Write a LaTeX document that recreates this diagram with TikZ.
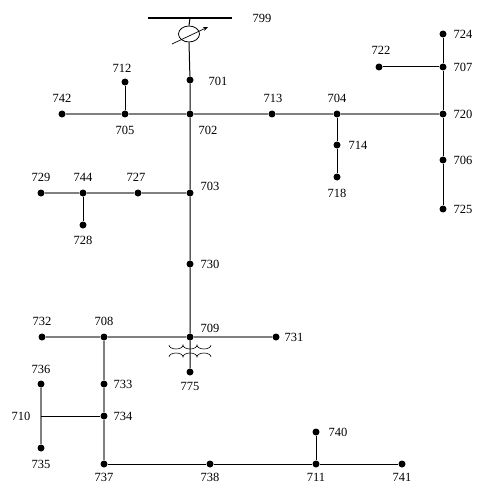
\documentclass[tikz,border=0pt]{standalone}
\usepackage{fontspec}
\setmainfont{Liberation Serif}
\usetikzlibrary{arrows.meta,shapes.geometric}
\begin{document}
\begin{tikzpicture}[x=1pt,y=-1pt,
  bus/.style={circle,fill=black,inner sep=0pt,minimum width=7pt,minimum height=6.5pt},
  lbl/.style={font=\fontsize{12.5}{13}\selectfont,inner sep=0pt},
  blk/.style={draw=black,line width=1pt},
  gry/.style={draw=black!50,line width=1.2pt}]
\useasboundingbox (0,0) rectangle (476,484);
% buses
\node[bus] (701) at (190,80) {};
\node[bus] (702) at (190,114) {};
\node[bus] (705) at (125,114) {};
\node[bus] (712) at (125,82) {};
\node[bus] (742) at (62,114) {};
\node[bus] (713) at (272,114) {};
\node[bus] (704) at (337,114) {};
\node[bus] (714) at (337,145) {};
\node[bus] (718) at (337,177) {};
\node[bus] (720) at (443,114) {};
\node[bus] (707) at (443,67) {};
\node[bus] (724) at (443,34) {};
\node[bus] (722) at (379,67) {};
\node[bus] (706) at (443,160) {};
\node[bus] (725) at (443,209) {};
\node[bus] (703) at (190,193) {};
\node[bus] (727) at (138,193) {};
\node[bus] (744) at (83,193) {};
\node[bus] (729) at (41,193) {};
\node[bus] (728) at (83,225) {};
\node[bus] (730) at (190,264) {};
\node[bus] (709) at (190,337) {};
\node[bus] (731) at (276,337) {};
\node[bus] (708) at (104,337) {};
\node[bus] (732) at (42,337) {};
\node[bus] (775) at (190,372) {};
\node[bus] (733) at (104,384) {};
\node[bus] (734) at (104,416) {};
\node[bus] (736) at (41,384) {};
\node[bus] (735) at (41,448) {};
\node[bus] (737) at (104,464) {};
\node[bus] (738) at (210,464) {};
\node[bus] (711) at (316,464) {};
\node[bus] (740) at (316,432) {};
\node[bus] (741) at (402,464) {};
\coordinate (b799l) at (148,18);
\coordinate (b799r) at (232,18);
\coordinate (b799) at (190,18);
\coordinate (j710) at (41,416);
% source bus and regulator
\draw[line width=2.6pt] (b799l) -- (b799r);
\node[draw,ellipse,line width=0.8pt,minimum width=21pt,minimum height=16pt,inner sep=0pt] (reg) at (189,34) {};
\draw[line width=0.7pt,-{Stealth[length=5pt,width=4pt]}] (172,44) -- (208,27);
% lines
\draw[gry] (742) -- (705) -- (702) -- (713) -- (704) -- (720);
\draw[gry] (729) -- (744) -- (727) -- (703);
\draw[gry] (732) -- (708) -- (709) -- (731);
\draw[gry] (708) -- (733) -- (734) -- (737);
\draw[gry] (736) -- (j710) -- (735);
\draw[blk] (b799) -- (reg.north);
\draw[blk] (reg.south) -- (701) -- (702) -- (703) -- (730) -- (709) -- (775);
\draw[blk] (705) -- (712);
\draw[blk] (704) -- (714) -- (718);
\draw[blk] (724) -- (707) -- (720) -- (706) -- (725);
\draw[blk] (722) -- (707);
\draw[blk] (744) -- (728);
\draw[blk] (j710) -- (734);
\draw[blk] (737) -- (738) -- (711) -- (741);
\draw[blk] (711) -- (740);
% transformer coils
\draw[line width=0.6pt] (169,345) arc[start angle=180,end angle=0,x radius=7,y radius=4]
  arc[start angle=180,end angle=0,x radius=7,y radius=4]
  arc[start angle=180,end angle=0,x radius=7,y radius=4];
\draw[line width=0.6pt] (169,357) arc[start angle=180,end angle=360,x radius=7,y radius=4]
  arc[start angle=180,end angle=360,x radius=7,y radius=4]
  arc[start angle=180,end angle=360,x radius=7,y radius=4];
% labels
\node[lbl] (l799) at (262,18) {799};
\node[lbl] (l701) at (218,81) {701};
\node[lbl] (l702) at (208,130) {702};
\node[lbl] (l705) at (125,130) {705};
\node[lbl] (l712) at (122,68) {712};
\node[lbl] (l742) at (62,98) {742};
\node[lbl] (l713) at (273,98) {713};
\node[lbl] (l704) at (337,98) {704};
\node[lbl] (l714) at (358,145) {714};
\node[lbl] (l718) at (337,193) {718};
\node[lbl] (l720) at (463,114) {720};
\node[lbl] (l707) at (463,67) {707};
\node[lbl] (l724) at (463,34) {724};
\node[lbl] (l722) at (381,50) {722};
\node[lbl] (l706) at (463,160) {706};
\node[lbl] (l725) at (463,209) {725};
\node[lbl] (l703) at (210,186) {703};
\node[lbl] (l727) at (136,177) {727};
\node[lbl] (l744) at (83,177) {744};
\node[lbl] (l729) at (41,177) {729};
\node[lbl] (l728) at (83,240) {728};
\node[lbl] (l730) at (210,264) {730};
\node[lbl] (l709) at (210,328) {709};
\node[lbl] (l731) at (294,337) {731};
\node[lbl] (l708) at (104,321) {708};
\node[lbl] (l732) at (42,321) {732};
\node[lbl] (l775) at (190,386) {775};
\node[lbl] (l733) at (123,384) {733};
\node[lbl] (l734) at (123,416) {734};
\node[lbl] (l710) at (21,416) {710};
\node[lbl] (l736) at (41,369) {736};
\node[lbl] (l735) at (41,464) {735};
\node[lbl] (l737) at (104,477) {737};
\node[lbl] (l738) at (210,477) {738};
\node[lbl] (l711) at (316,477) {711};
\node[lbl] (l740) at (338,432) {740};
\node[lbl] (l741) at (402,477) {741};
\end{tikzpicture}
\end{document}
